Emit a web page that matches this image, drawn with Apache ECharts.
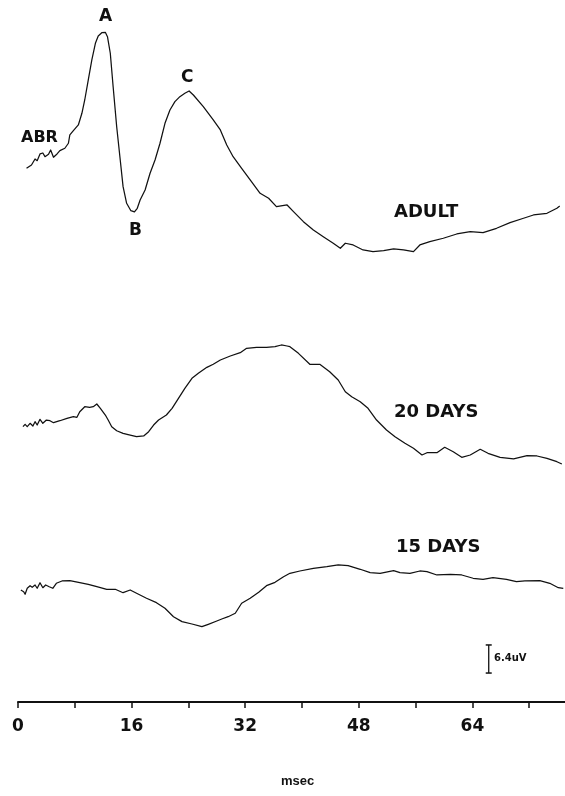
<!DOCTYPE html>
<html>
<head>
<meta charset="utf-8">
<script src="https://cdn.jsdelivr.net/npm/echarts@6/dist/echarts.min.js"></script>
<style>
html,body{margin:0;padding:0;background:#fff;}
#chart{width:565px;height:796px;}
</style>
</head>
<body>
<div id="chart"></div>
<script>
// ---- data (time in msec, amplitude in uV relative to each trace's start level)
const adultMs = [1.2,1.9,2.4,2.7,3.1,3.5,3.8,4.3,4.6,5.0,5.5,5.9,6.6,7.1,7.3,7.8,8.5,9.0,9.4,9.9,10.4,10.9,11.3,11.8,12.3,12.6,13.0,13.4,13.9,14.4,14.8,15.3,15.9,16.4,16.8,17.2,17.9,18.6,19.3,20.0,20.7,21.4,22.1,22.8,23.5,24.1,24.7,26.1,27.5,28.5,29.4,30.3,31.5,32.7,34.1,35.3,36.4,37.9,38.8,40.2,41.6,43.0,44.4,45.4,46.1,47.2,48.6,50.0,51.5,52.9,54.3,55.7,56.6,58.0,59.9,61.8,63.7,65.5,67.4,69.3,71.2,72.6,74.5,75.9,76.3];
const adultUV = [-0.75,0,1.37,0.98,2.51,2.73,1.89,2.44,3.42,1.75,2.51,3.26,3.81,4.95,6.84,7.82,9.12,11.78,14.81,19.37,23.93,27.74,29.40,30.15,30.24,29.24,25.46,17.84,8.72,1.14,-4.95,-8.73,-10.42,-10.71,-9.87,-7.98,-5.70,-1.89,1.14,4.95,9.50,12.53,14.43,15.57,16.34,16.86,15.95,13.29,10.26,7.98,4.56,1.89,-0.75,-3.42,-6.45,-7.59,-9.50,-9.12,-10.64,-12.92,-14.81,-16.34,-17.84,-18.98,-17.84,-18.23,-19.37,-19.76,-19.53,-19.14,-19.37,-19.76,-18.23,-17.48,-16.70,-15.73,-15.20,-15.43,-14.43,-13.15,-12.15,-11.40,-11.01,-9.87,-9.34];

const day20Ms = [0.7,1.0,1.3,1.7,2.1,2.4,2.7,3.1,3.5,4.0,4.5,5.0,5.9,6.9,7.8,8.3,8.7,9.4,10.1,10.6,11.1,11.6,12.3,12.7,13.2,13.9,14.8,15.8,16.7,17.7,18.4,19.1,19.8,20.9,21.7,22.6,23.5,24.5,25.4,26.6,27.5,28.5,29.9,31.3,32.2,33.6,35.0,36.2,37.1,37.9,38.3,39.5,41.1,42.5,43.9,45.1,46.1,47.0,48.2,49.3,50.5,51.9,53.1,54.5,55.7,56.9,57.6,59.0,60.1,61.3,62.5,63.7,65.1,66.2,67.9,69.8,71.7,73.1,74.5,75.9,76.6];
const day20UV = [0.30,0.84,0.30,1.07,0.46,1.44,0.68,1.98,1.07,1.82,1.66,1.21,1.66,2.21,2.58,2.44,3.71,4.85,4.72,4.85,5.47,4.49,2.96,1.82,0.30,-0.62,-1.21,-1.60,-1.98,-1.82,-0.84,0.68,1.82,2.96,4.49,6.77,9.05,11.33,12.47,13.83,14.52,15.50,16.41,17.16,18.16,18.39,18.39,18.53,18.92,18.69,18.53,17.02,14.52,14.52,12.83,10.94,8.27,7.13,5.99,4.49,1.82,-0.46,-1.98,-3.49,-4.63,-6.15,-5.63,-5.63,-4.40,-5.40,-6.68,-6.15,-4.85,-5.77,-6.68,-7.06,-6.31,-6.38,-6.91,-7.68,-8.20];

const day15Ms = [0.4,0.8,1.0,1.3,1.7,2.0,2.4,2.7,3.1,3.5,3.9,4.4,4.9,5.4,6.2,7.3,8.7,9.9,11.1,12.5,13.7,14.8,15.8,16.7,18.1,19.5,20.7,21.9,23.1,24.5,25.9,26.8,28.0,28.7,29.6,30.6,31.5,32.7,33.9,35.0,36.2,37.4,38.3,39.7,41.6,43.5,45.1,46.5,48.2,49.6,51.0,52.9,53.8,55.2,56.6,57.6,59.0,60.9,62.5,64.1,65.5,66.9,68.8,70.2,71.4,73.5,74.9,76.1,76.8];
const day15UV = [0,-0.39,-0.98,0.39,0.98,0.62,1.14,0.39,1.66,0.52,1.14,0.75,0.39,1.53,2.05,2.12,1.66,1.30,0.75,0.16,0.16,-0.62,0,-0.75,-1.89,-2.89,-4.17,-6.09,-7.22,-7.75,-8.36,-7.82,-7.07,-6.61,-6.09,-5.31,-3.03,-1.89,-0.52,0.98,1.75,3.03,3.81,4.33,4.95,5.31,5.70,5.54,4.72,3.94,3.81,4.40,3.94,3.81,4.33,4.17,3.42,3.58,3.42,2.67,2.44,2.80,2.44,1.89,2.05,2.12,1.53,0.52,0.39];

const traceNames = ['ADULT', '20 DAYS', '15 DAYS'];
const peakNames = ['A', 'B', 'C'];
const xTickLabels = [0, 16, 32, 48, 64];
const xAxisName = 'msec';
const scaleBarUV = 6.4;
const scaleBarLabel = '6.4uV';

// ---- layout (vertical stacking of traces, in uV units on a hidden axis)
const traceOffsets = [122.4, 62.45, 25.53];
const scaleBarAt = { ms: 66.3, base: 6.6 };

function zip(xs, ys, off) { return xs.map((x, i) => [x, ys[i] + off]); }

const chart = echarts.init(document.getElementById('chart'), null, { renderer: 'canvas' });
const ink = '#111';

function txt(text, left, top, size) {
  return { type: 'text', left, top, silent: true,
    style: { text, fill: ink, fontFamily: 'DejaVu Sans', fontWeight: 'bold', fontSize: size } };
}

const lineSeries = (name, xs, ys, off) => ({
  name, type: 'line', data: zip(xs, ys, off), symbol: 'none', smooth: false,
  lineStyle: { color: ink, width: 1.25, join: 'round' }, silent: true, animation: false
});

chart.setOption({
  animation: false,
  backgroundColor: '#fff',
  grid: { left: 18, right: -21, top: 0, bottom: 94, containLabel: false, outerBoundsMode: 'none' },
  xAxis: {
    type: 'value', min: 0, max: 80, interval: 8,
    axisLine: { show: true, lineStyle: { color: ink, width: 2 } },
    axisTick: { show: true, length: 6, lineStyle: { color: ink, width: 1.5 } },
    splitLine: { show: false },
    axisLabel: {
      margin: 16, color: ink, fontFamily: 'DejaVu Sans', fontWeight: 'bold', fontSize: 17,
      formatter: v => xTickLabels.includes(v) ? String(v) : ''
    }
  },
  yAxis: { type: 'value', min: 0, max: 160, show: false },
  series: [
    lineSeries(traceNames[0], adultMs, adultUV, traceOffsets[0]),
    lineSeries(traceNames[1], day20Ms, day20UV, traceOffsets[1]),
    lineSeries(traceNames[2], day15Ms, day15UV, traceOffsets[2]),
    {
      type: 'line', name: 'scale', animation: false, silent: true,
      data: [[scaleBarAt.ms, scaleBarAt.base], [scaleBarAt.ms, scaleBarAt.base + scaleBarUV]],
      symbol: 'rect', symbolSize: [6, 1.5], showSymbol: true,
      itemStyle: { color: ink }, lineStyle: { color: ink, width: 1.3 }
    }
  ],
  graphic: [
    txt(peakNames[0], 99, 8, 17),
    txt(peakNames[1], 129, 222, 17),
    txt(peakNames[2], 181, 69, 17),
    txt('ABR', 21, 130, 16),
    txt(traceNames[0], 394, 203, 18),
    txt(traceNames[1], 394, 403, 18),
    txt(traceNames[2], 396, 538, 18),
    txt(scaleBarLabel, 494, 653, 10),
    { type: 'text', left: 281, top: 775, silent: true,
      style: { text: xAxisName, fill: ink, fontFamily: 'Liberation Sans', fontWeight: 'bold', fontSize: 13 } }
  ]
});
</script>
</body>
</html>
